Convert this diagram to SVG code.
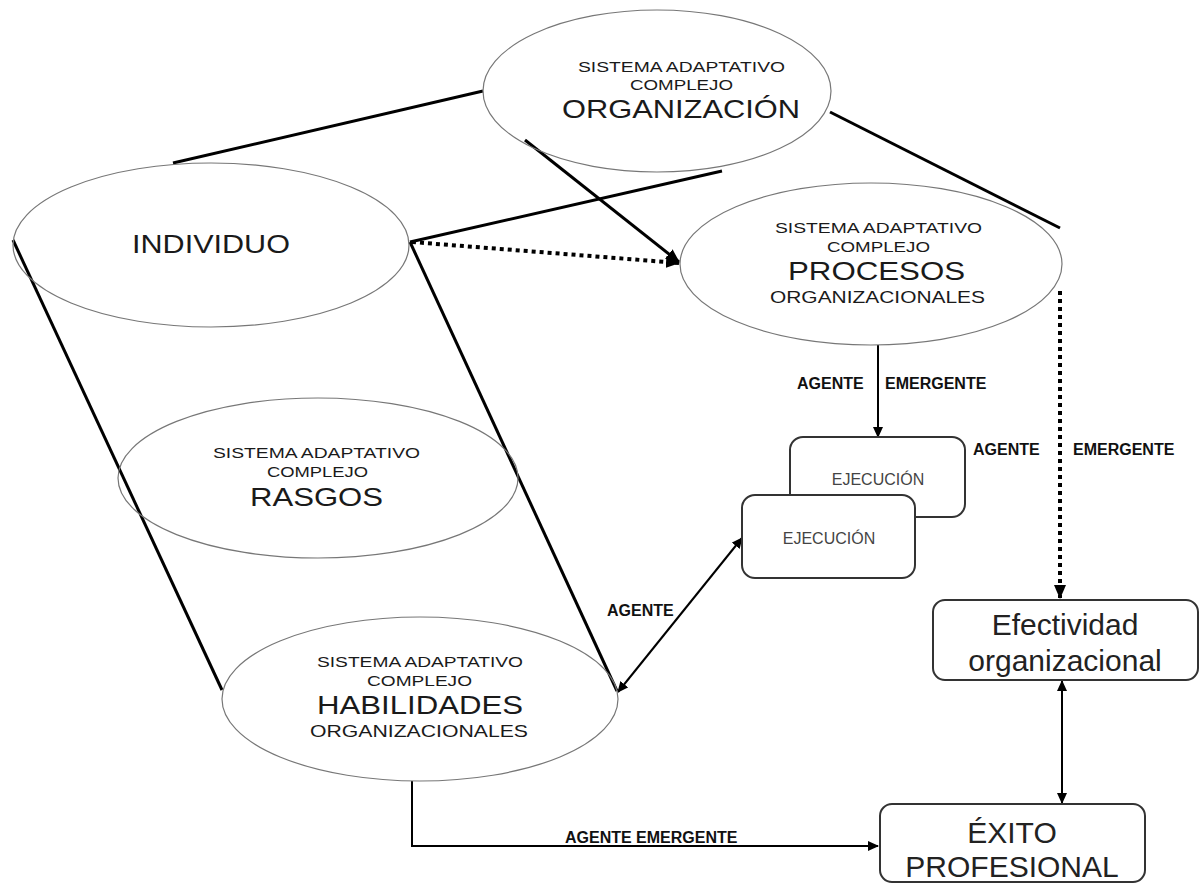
<svg xmlns="http://www.w3.org/2000/svg" width="1203" height="884" viewBox="0 0 1203 884">
  <style>
    .ell { fill: none; stroke: #777; stroke-width: 1.2; }
    .box { fill: #fff; stroke: #333; stroke-width: 2; }
    .ln { fill: none; stroke: #000; stroke-width: 3; }
    .dot { fill: none; stroke: #000; stroke-width: 4; stroke-dasharray: 4 4; }
    .thin { fill: none; stroke: #000; stroke-width: 2; }
    .t { font-family: "Liberation Sans", Arial, sans-serif; fill: #1a1a1a; }
    .small { font-size: 14px; }
    .big { font-size: 25px; }
    .mid { font-size: 16.5px; }
    .lbl { font-family: "Liberation Sans", Arial, sans-serif; font-weight: bold; font-size: 16px; fill: #111; }
    .exe { font-family: "Liberation Sans", Arial, sans-serif; font-size: 16px; fill: #444; text-anchor: middle; }
    .res { font-family: "Liberation Sans", Arial, sans-serif; font-size: 30px; fill: #222; text-anchor: middle; }
  </style>
  <defs>
    <marker id="ah" markerUnits="userSpaceOnUse" markerWidth="14" markerHeight="12" refX="13" refY="6" orient="auto-start-reverse">
      <path d="M0,0 L14,6 L0,12 Z" fill="#000"/>
    </marker>
    <marker id="ahs" markerUnits="userSpaceOnUse" markerWidth="11" markerHeight="10" refX="10" refY="5" orient="auto-start-reverse">
      <path d="M0,0 L11,5 L0,10 Z" fill="#000"/>
    </marker>
  </defs>

  <rect width="1203" height="884" fill="#fff"/>

  <!-- connectors -->
  <g id="connectors">
    <line class="ln" x1="173" y1="163" x2="483" y2="91"/>
    <line class="ln" x1="410" y1="242" x2="722" y2="171"/>
    <line class="ln" x1="525" y1="140" x2="679" y2="262" marker-end="url(#ah)"/>
    <line class="dot" x1="412" y1="242" x2="679" y2="263" marker-end="url(#ah)"/>
    <line class="ln" x1="830" y1="112" x2="1060" y2="228"/>
    <line class="ln" x1="13" y1="240" x2="222" y2="690"/>
    <line class="ln" x1="410" y1="242" x2="617" y2="691"/>
    <line class="thin" x1="618" y1="692" x2="742" y2="538" marker-start="url(#ahs)" marker-end="url(#ahs)"/>
    <line class="thin" x1="878" y1="345" x2="878" y2="437" marker-end="url(#ahs)"/>
    <line class="dot" x1="1060" y1="291" x2="1060" y2="598" marker-end="url(#ah)"/>
    <line class="thin" x1="1062" y1="681" x2="1062" y2="803" marker-start="url(#ahs)" marker-end="url(#ahs)"/>
    <polyline class="thin" points="412,781 412,846 878,846" marker-end="url(#ahs)"/>
    <text class="lbl" x="607" y="616">AGENTE</text>
    <text class="lbl" x="797" y="389">AGENTE</text>
    <text class="lbl" x="885" y="389">EMERGENTE</text>
    <text class="lbl" x="973" y="455">AGENTE</text>
    <text class="lbl" x="1073" y="455">EMERGENTE</text>
    <text class="lbl" x="565" y="843">AGENTE EMERGENTE</text>
  </g>

  <g id="organizacion">
    <ellipse class="ell" cx="657" cy="91" rx="174" ry="81"/>
    <text class="t small" x="578" y="72" textLength="207" lengthAdjust="spacingAndGlyphs">SISTEMA ADAPTATIVO</text>
    <text class="t small" x="630" y="90" textLength="103" lengthAdjust="spacingAndGlyphs">COMPLEJO</text>
    <text class="t big" x="562" y="118" textLength="238" lengthAdjust="spacingAndGlyphs">ORGANIZACIÓN</text>
  </g>

  <g id="procesos">
    <ellipse class="ell" cx="871" cy="264" rx="191" ry="81"/>
    <text class="t small" x="775" y="233" textLength="207" lengthAdjust="spacingAndGlyphs">SISTEMA ADAPTATIVO</text>
    <text class="t small" x="827" y="252" textLength="103" lengthAdjust="spacingAndGlyphs">COMPLEJO</text>
    <text class="t big" x="788" y="280" textLength="177" lengthAdjust="spacingAndGlyphs">PROCESOS</text>
    <text class="t mid" x="770" y="303" textLength="215" lengthAdjust="spacingAndGlyphs">ORGANIZACIONALES</text>
  </g>

  <g id="individuo">
    <ellipse class="ell" cx="211" cy="245" rx="198" ry="82"/>
    <text class="t big" x="132" y="253" textLength="158" lengthAdjust="spacingAndGlyphs">INDIVIDUO</text>
  </g>

  <g id="rasgos">
    <ellipse class="ell" cx="318" cy="478" rx="200" ry="80"/>
    <text class="t small" x="213" y="458" textLength="207" lengthAdjust="spacingAndGlyphs">SISTEMA ADAPTATIVO</text>
    <text class="t small" x="267" y="477" textLength="101" lengthAdjust="spacingAndGlyphs">COMPLEJO</text>
    <text class="t big" x="250" y="506" style="font-size:26px" textLength="133" lengthAdjust="spacingAndGlyphs">RASGOS</text>
  </g>

  <g id="habilidades">
    <ellipse class="ell" cx="420" cy="699" rx="198" ry="82"/>
    <text class="t small" x="317" y="667" textLength="206" lengthAdjust="spacingAndGlyphs">SISTEMA ADAPTATIVO</text>
    <text class="t small" x="367" y="686" textLength="105" lengthAdjust="spacingAndGlyphs">COMPLEJO</text>
    <text class="t big" x="317" y="714" textLength="206" lengthAdjust="spacingAndGlyphs">HABILIDADES</text>
    <text class="t mid" x="310" y="737" textLength="218" lengthAdjust="spacingAndGlyphs">ORGANIZACIONALES</text>
  </g>

  <g id="ejecucion-back">
    <rect class="box" x="790" y="437" width="175" height="80" rx="13"/>
    <text class="exe" x="878" y="485">EJECUCIÓN</text>
  </g>

  <g id="ejecucion-front">
    <rect class="box" x="742" y="495" width="173" height="83" rx="13"/>
    <text class="exe" x="829" y="544">EJECUCIÓN</text>
  </g>

  <g id="efectividad">
    <rect class="box" x="933" y="600" width="265" height="80" rx="12"/>
    <text class="res" x="1065" y="635">Efectividad</text>
    <text class="res" x="1065" y="671">organizacional</text>
  </g>

  <g id="exito">
    <rect class="box" x="880" y="804" width="265" height="78" rx="12"/>
    <text class="res" x="1012" y="843">ÉXITO</text>
    <text class="res" x="1012" y="877">PROFESIONAL</text>
  </g>
</svg>
